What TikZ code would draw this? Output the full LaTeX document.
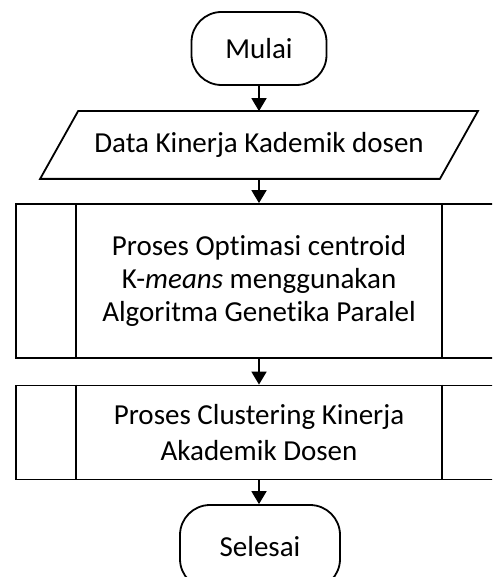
\documentclass[tikz,border=0pt]{standalone}
\usepackage{fontspec}
\setmainfont{Carlito}[Ligatures=NoCommon]
\usetikzlibrary{arrows.meta,calc}
\begin{document}
\begin{tikzpicture}[x=1pt,y=-1pt,
  base/.style={line width=1.8pt, font=\fontsize{29}{33}\selectfont, inner sep=0pt},
  terminal/.style={base, draw, rounded corners=30pt},
  iobox/.style={base},
  predef/.style={base, draw, align=center},
  flow/.style={line width=1.8pt, -{Triangle[width=15pt,length=13pt]}}]
\useasboundingbox (0,0) rectangle (492,577);
\clip (0,0) rectangle (492,577);
\fill[white] (0,0) rectangle (492,577);

\node[terminal, minimum width=135pt, minimum height=73pt] (mulai) at (259,48.5) {Mulai};

\node[iobox, minimum width=436pt, minimum height=66pt] (data) at (259,145) {Data Kinerja Kademik dosen};
\draw[line width=1.8pt] ($(data.north west)+(38,0)$) -- (data.north east)
  -- ($(data.south east)+(-38,0)$) -- (data.south west) -- cycle;

\node[predef, minimum width=486pt, minimum height=154pt,
  font=\fontsize{29}{32.7}\selectfont] (p1) at (259,281)
  {Proses Optimasi centroid\\K-\textit{means} menggunakan\\Algoritma Genetika Paralel};
\draw[line width=1.8pt] ($(p1.north west)+(61,0)$) -- ($(p1.south west)+(61,0)$);
\draw[line width=1.8pt] ($(p1.north east)+(-61,0)$) -- ($(p1.south east)+(-61,0)$);

\node[predef, minimum width=486pt, minimum height=94pt,
  font=\fontsize{29}{36.5}\selectfont] (p2) at (259,432.5)
  {Proses Clustering Kinerja\\Akademik Dosen};
\draw[line width=1.8pt] ($(p2.north west)+(61,0)$) -- ($(p2.south west)+(61,0)$);
\draw[line width=1.8pt] ($(p2.north east)+(-61,0)$) -- ($(p2.south east)+(-61,0)$);

\node[terminal, minimum width=160pt, minimum height=84pt] (selesai) at (260,547) {Selesai};

\draw[flow] (mulai.south) -- (data.north);
\draw[flow] (data.south) -- (p1.north);
\draw[flow] (p1.south) -- (p2.north);
\draw[flow] (p2.south) -- (selesai.north -| p2.south);
\end{tikzpicture}
\end{document}
